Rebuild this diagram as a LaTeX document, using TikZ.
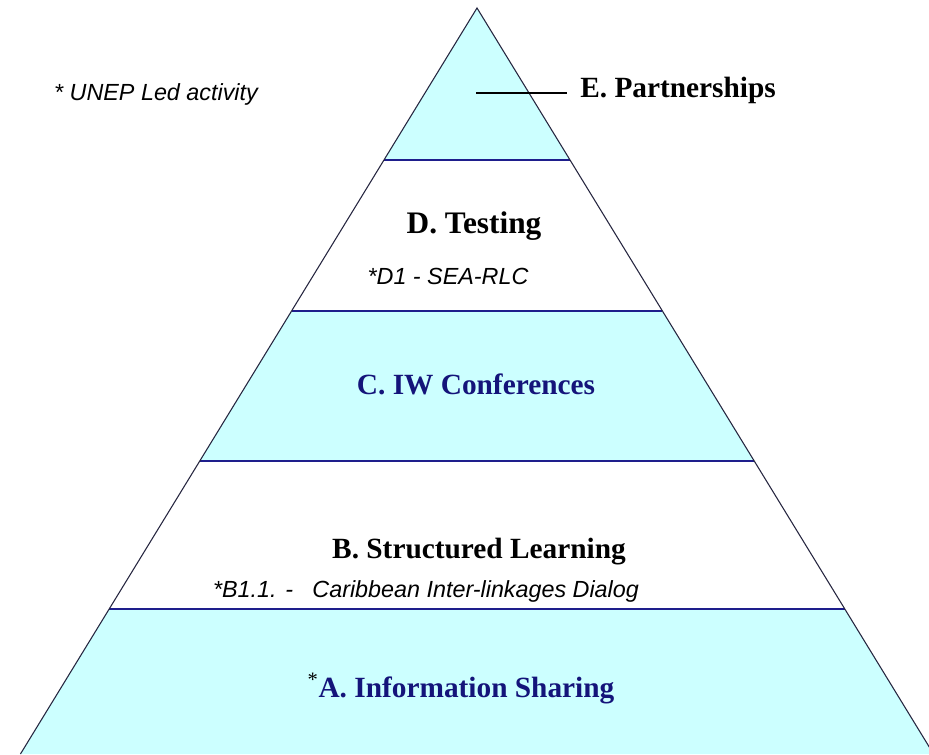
\documentclass[tikz,border=0pt]{standalone}
\usepackage{fontspec}
\setmainfont{Liberation Serif}
\setsansfont{Liberation Sans}
\definecolor{bandcyan}{HTML}{CCFFFF}
\definecolor{bandnavy}{HTML}{1E1E8C}
\definecolor{textnavy}{HTML}{14147A}
\definecolor{sideink}{HTML}{262640}
\tikzset{
  level/.style={font=\fontsize{22}{26}\selectfont\bfseries, inner sep=0pt, anchor=base},
  note/.style={font=\fontsize{17.5}{20}\selectfont\sffamily\itshape, inner sep=0pt, anchor=base},
  rim/.style={draw=bandnavy, line width=1.3pt},
  side/.style={draw=sideink, line width=0.8pt}
}
\begin{document}
\begin{tikzpicture}[x=0.75pt,y=-0.75pt]
                                    \def\k{0.612};\def\ax{477};\def\ay{8};
                                    \useasboundingbox (0,0) rectangle (929,754);
                                    \clip (0,0) rectangle (929,754);
                                    \coordinate (apex) at (\ax,\ay);
% bands
                                    \foreach \ya/\yb/\col in {8/160/bandcyan,160/311/white,311/461/bandcyan,461/609/white,609/754/bandcyan}
                                      \fill[\col] ({\ax-\k*(\ya-\ay)},\ya) -- ({\ax+\k*(\ya-\ay)},\ya) -- ({\ax+\k*(\yb-\ay)},\yb) -- ({\ax-\k*(\yb-\ay)},\yb) -- cycle;
                                    \foreach \y in {160,311,461,609}
                                      \draw[rim] ({\ax-\k*(\y-\ay)},\y) -- ({\ax+\k*(\y-\ay)},\y);
                                    \draw[side] ({\ax-\k*(754-\ay)},754) -- (apex) -- ({\ax+\k*(754-\ay)},754);

% labels
                                    \node[note] (unep) at (156,100) {* UNEP Led activity};
                                    \node[level, anchor=base west] (epart) at (580,97) {E. Partnerships};
                                    \coordinate (etip) at (476,93);
                                    \draw[line width=1pt, shorten >=9.5pt] (etip) -- (epart.west |- etip);
                                    \node[level, font=\fontsize{23.5}{26}\selectfont\bfseries] (dtest) at (474,233) {D. Testing};
                                    \node[note] (dnote) at (448,284) {*D1 - SEA-RLC};
                                    \node[level, text=textnavy] (cconf) at (476,394) {C. IW Conferences};
                                    \node[level] (blearn) at (479,558) {B. Structured Learning};
                                    \node[note] (bnote) at (426,597) {*B1.1. -\ \ \ Caribbean Inter-linkages Dialog};
                                    \node[level, text=textnavy] (ainfo) at (461,697) {\textcolor{black}{\textsuperscript{\mdseries *}}A. Information Sharing};

                                \end{tikzpicture}
\end{document}
